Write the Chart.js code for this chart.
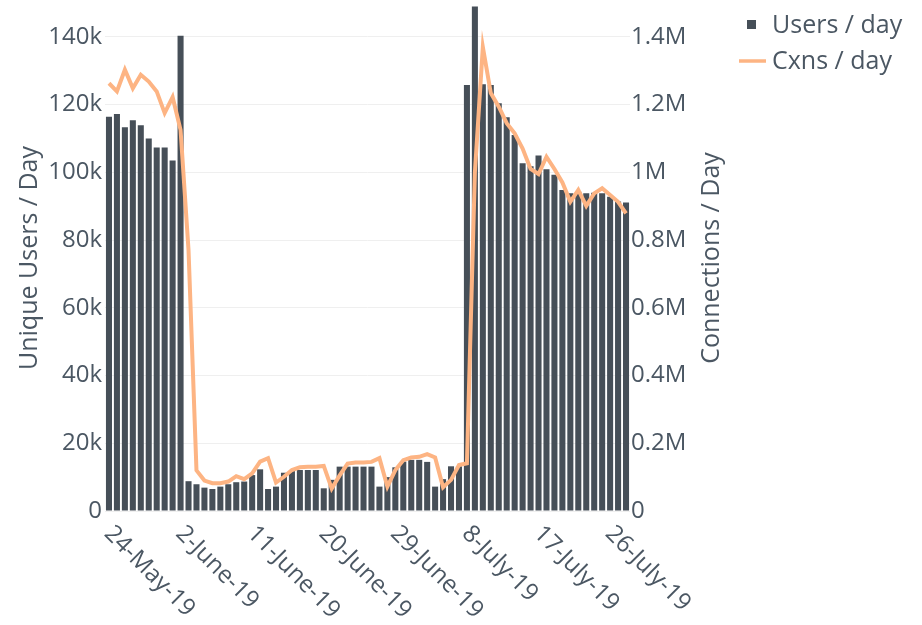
<!DOCTYPE html>
<html>
<head>
<meta charset="utf-8">
<script src="https://cdn.jsdelivr.net/npm/chart.js@4.4.1/dist/chart.umd.min.js"></script>
<style>
  html, body { margin: 0; padding: 0; background: #fff; }
  #wrap { width: 922px; height: 625px; }
</style>
</head>
<body>
<div id="wrap"><canvas id="usersChart"></canvas></div>
<script>
const days = [
  '24-May-19','25-May-19','26-May-19','27-May-19','28-May-19','29-May-19','30-May-19','31-May-19',
  '1-June-19','2-June-19','3-June-19','4-June-19','5-June-19','6-June-19','7-June-19','8-June-19',
  '9-June-19','10-June-19','11-June-19','12-June-19','13-June-19','14-June-19','15-June-19','16-June-19',
  '17-June-19','18-June-19','19-June-19','20-June-19','21-June-19','22-June-19','23-June-19','24-June-19',
  '25-June-19','26-June-19','27-June-19','28-June-19','29-June-19','30-June-19',
  '1-July-19','2-July-19','3-July-19','4-July-19','5-July-19','6-July-19','7-July-19','8-July-19',
  '9-July-19','10-July-19','11-July-19','12-July-19','13-July-19','14-July-19','15-July-19','16-July-19',
  '17-July-19','18-July-19','19-July-19','20-July-19','21-July-19','22-July-19','23-July-19','24-July-19',
  '25-July-19','26-July-19','27-July-19','28-July-19'
];
const tickDays = ['24-May-19','2-June-19','11-June-19','20-June-19','29-June-19','8-July-19','17-July-19','26-July-19'];
const userTicks = [0, 20000, 40000, 60000, 80000, 100000, 120000, 140000];
const cxnTicks = [0, 200000, 400000, 600000, 800000, 1000000, 1200000, 1400000];

const usersPerDay = [
  116400,117200,113300,115400,113900,110000,107300,107300,103500,140300,
  8800,7900,6900,6500,7200,7900,8500,8700,10600,12300,
  6500,7200,11300,11900,12100,12100,12100,6700,9200,13100,
  13100,13100,13100,13100,7200,10000,12900,14600,15100,15100,
  14500,7200,9400,13200,13200,125800,149000,126000,125800,120400,
  116300,111000,102700,101800,105000,100900,99300,94800,93800,94300,
  93800,94000,93800,92800,91400,91100
];
const cxnsPerDay = [
  1263000,1239000,1303000,1248000,1288000,1268000,1239000,1175000,1222000,1125000,
  770000,120000,90000,82000,82000,87000,103000,94000,111000,146000,
  156000,84000,101000,121000,129000,131000,131000,133000,66000,105000,
  140000,143000,143000,145000,156000,72000,121000,150000,158000,160000,
  168000,158000,70000,92000,136000,141000,1000000,1370000,1234000,1194000,
  1145000,1115000,1070000,1010000,995000,1046000,1010000,970000,913000,948000,
  901000,938000,953000,933000,913000,879000
];

const textColor = '#4b5763';
const barColor = '#464f58';
const lineColor = '#fdb483';
const fontFamily = '"Open Sans", "Noto Sans", sans-serif';

// axis titles, rotated x labels and legend drawn by hand
const decorations = {
  id: 'decorations',
  afterDraw(chart) {
    const ctx = chart.ctx;
    const area = chart.chartArea;
    const xs = chart.scales.x;
    ctx.save();
    ctx.fillStyle = textColor;

    ctx.font = '24px ' + fontFamily;
    ctx.textAlign = 'left';
    ctx.textBaseline = 'middle';
    days.forEach((d, i) => {
      if (!tickDays.includes(d)) return;
      const px = xs.getPixelForValue(i);
      ctx.save();
      ctx.translate(px - 1, area.bottom + 19);
      ctx.rotate(Math.PI / 4);
      ctx.fillText(d, 0, 0);
      ctx.restore();
    });

    ctx.font = '25px ' + fontFamily;
    ctx.textAlign = 'center';
    const midY = 258;
    [['Unique Users / Day', 30], ['Connections / Day', 712]].forEach(([t, x]) => {
      ctx.save();
      ctx.translate(x, midY);
      ctx.rotate(-Math.PI / 2);
      ctx.fillText(t, 0, 0);
      ctx.restore();
    });

    // legend
    ctx.font = '25px ' + fontFamily;
    ctx.textAlign = 'left';
    ctx.fillStyle = barColor;
    ctx.fillRect(747, 20, 9, 9);
    ctx.strokeStyle = lineColor;
    ctx.lineWidth = 3.5;
    ctx.beginPath();
    ctx.moveTo(739, 61);
    ctx.lineTo(766, 61);
    ctx.stroke();
    ctx.fillStyle = textColor;
    ctx.fillText('Users / day', 772, 26);
    ctx.fillText('Cxns / day', 772, 62);
    ctx.restore();
  }
};

const ctx = document.getElementById('usersChart');

const usersChart = new Chart(ctx, {
  data: {
    labels: days,
    datasets: [{
      type: 'bar',
      label: 'Users / day',
      data: usersPerDay,
      backgroundColor: barColor,
      categoryPercentage: 0.76,
      barPercentage: 1,
      yAxisID: 'y',
      order: 1
    }, {
      type: 'line',
      label: 'Cxns / day',
      data: cxnsPerDay,
      borderColor: lineColor,
      borderWidth: 4,
      pointRadius: 0,
      tension: 0,
      yAxisID: 'y1',
      order: 0
    }]
  },
  options: {
    responsive: true,
    maintainAspectRatio: false,
    animation: false,
    layout: { padding: { top: 3, left: 0, right: 0, bottom: 0 } },
    plugins: {
      legend: { display: false },
      tooltip: { enabled: false }
    },
    scales: {
      x: {
        grid: { display: false },
        border: { display: false },
        ticks: { display: false },
        afterFit: (s) => { s.height = 114; s.paddingLeft = 0; s.paddingRight = 0; }
      },
      y: {
        position: 'left',
        min: 0,
        max: 150000,
        grid: { color: '#efefef', drawTicks: false, lineWidth: 1 },
        border: { display: false },
        afterBuildTicks: (s) => { s.ticks = userTicks.map(v => ({ value: v })); },
        ticks: {
          padding: 3,
          color: textColor,
          font: { family: fontFamily, size: 24 },
          callback: (v) => v === 0 ? '0' : (v / 1000) + 'k'
        },
        afterFit: (s) => { s.width = 105; s.paddingTop = 0; s.paddingBottom = 0; }
      },
      y1: {
        position: 'right',
        min: 0,
        max: 1500000,
        grid: { display: false, drawTicks: false },
        border: { display: false },
        afterBuildTicks: (s) => { s.ticks = cxnTicks.map(v => ({ value: v })); },
        ticks: {
          padding: 1,
          color: textColor,
          font: { family: fontFamily, size: 24 },
          callback: (v) => v === 0 ? '0' : (v / 1000000) + 'M'
        },
        afterFit: (s) => { s.width = 292; s.paddingTop = 0; s.paddingBottom = 0; }
      }
    }
  },
  plugins: [decorations]
});
</script>
</body>
</html>
